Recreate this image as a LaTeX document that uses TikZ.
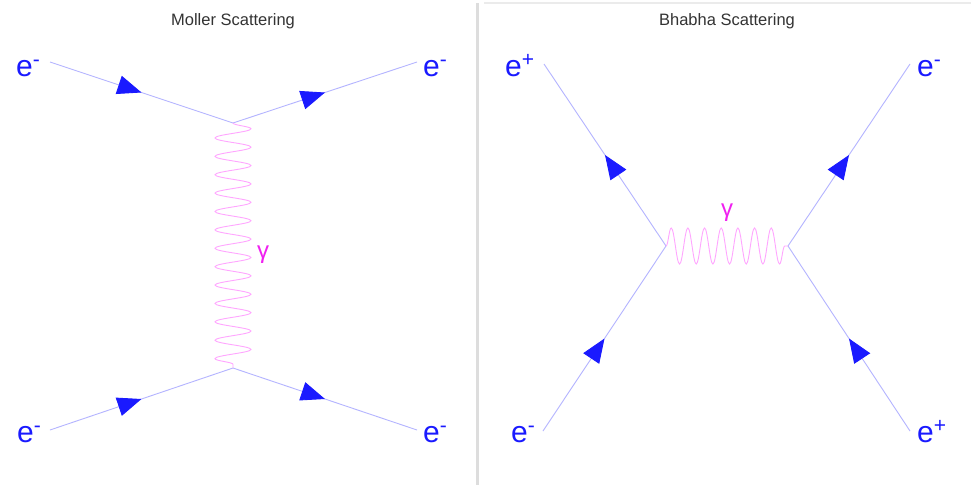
\documentclass[tikz,border=0pt]{standalone}
\usepackage{fontspec}
\setmainfont{Liberation Sans}
\usepackage{xcolor}
\usepackage{tikz}
\usetikzlibrary{arrows.meta,decorations.markings,decorations.pathmorphing}
\definecolor{cazul}{HTML}{1A1AFF}
\definecolor{cazulclaro}{HTML}{B4B4FF}
\definecolor{cmagenta}{HTML}{F020F0}
\definecolor{crosa}{HTML}{FFA6FF}
\definecolor{cgris}{HTML}{333333}
\definecolor{cborde}{HTML}{DDDDDD}
\tikzset{
  fermion/.style={draw=cazulclaro, line width=0.9pt, postaction={decorate},
    decoration={markings, mark=at position 0.5 with
      {\arrow{Triangle[length=24pt, width=19pt, color=cazul, fill=cazul]}}}},
  foton/.style={draw=crosa, line width=0.9pt, decorate,
    decoration={snake, amplitude=18pt, segment length=#1}},
  etq/.style={inner sep=0pt, anchor=base west, text=cazul, font=\fontsize{30}{30}\selectfont},
  gama/.style={inner sep=0pt, text=cmagenta, font=\fontsize{24}{24}\selectfont},
  titulo/.style={inner sep=0pt, anchor=base, text=cgris, font=\fontsize{16.5}{17}\selectfont},
}

\begin{document}
\begin{tikzpicture}[x=1pt, y=-1pt]
  \useasboundingbox[fill=white] (0,0) rectangle (971,485);
  % separacion entre paneles
  \draw[cborde, line width=3pt] (477,3) -- (477,485);
  \draw[cborde!60, line width=2pt] (484,3) -- (971,3);

  % Moller
  \node[titulo] (tm) at (233,25) {Moller Scattering};
  \coordinate (m1) at (50,62);  \coordinate (m2) at (417,62);
  \coordinate (m3) at (50,430); \coordinate (m4) at (417,430);
  \coordinate (va) at (233,123); \coordinate (vb) at (233,368);
  \node[etq] (em1) at (16,76) {e\textsuperscript{-}};
  \node[etq] (em2) at (423,76) {e\textsuperscript{-}};
  \node[etq] (em3) at (17,442) {e\textsuperscript{-}};
  \node[etq] (em4) at (423,442) {e\textsuperscript{-}};
  \draw[fermion] (m1) -- (va); \draw[fermion] (va) -- (m2);
  \draw[fermion] (m3) -- (vb); \draw[fermion] (vb) -- (m4);
  \draw[foton=18.39pt] (va) -- (vb);
  \node[gama] (gm) at (263,255) {γ};

  % Bhabha
  \node[titulo] (tb) at (727,25) {Bhabha Scattering};
  \coordinate (b1) at (544,64);  \coordinate (b2) at (910,64);
  \coordinate (b3) at (543,431); \coordinate (b4) at (910,431);
  \coordinate (vc) at (666,246); \coordinate (vd) at (788,246);
  \node[etq] (eb1) at (505,76) {e\textsuperscript{+}};
  \node[etq] (eb2) at (917,76) {e\textsuperscript{-}};
  \node[etq] (eb3) at (511,442) {e\textsuperscript{-}};
  \node[etq] (eb4) at (917,442) {e\textsuperscript{+}};
  \draw[fermion] (vc) -- (b1); \draw[fermion] (vd) -- (b2);
  \draw[fermion] (b3) -- (vc); \draw[fermion] (b4) -- (vd);
  \draw[foton=16.67pt] (vc) -- (vd);
  \node[gama] (gb) at (727,213) {γ};
\end{tikzpicture}
\end{document}
